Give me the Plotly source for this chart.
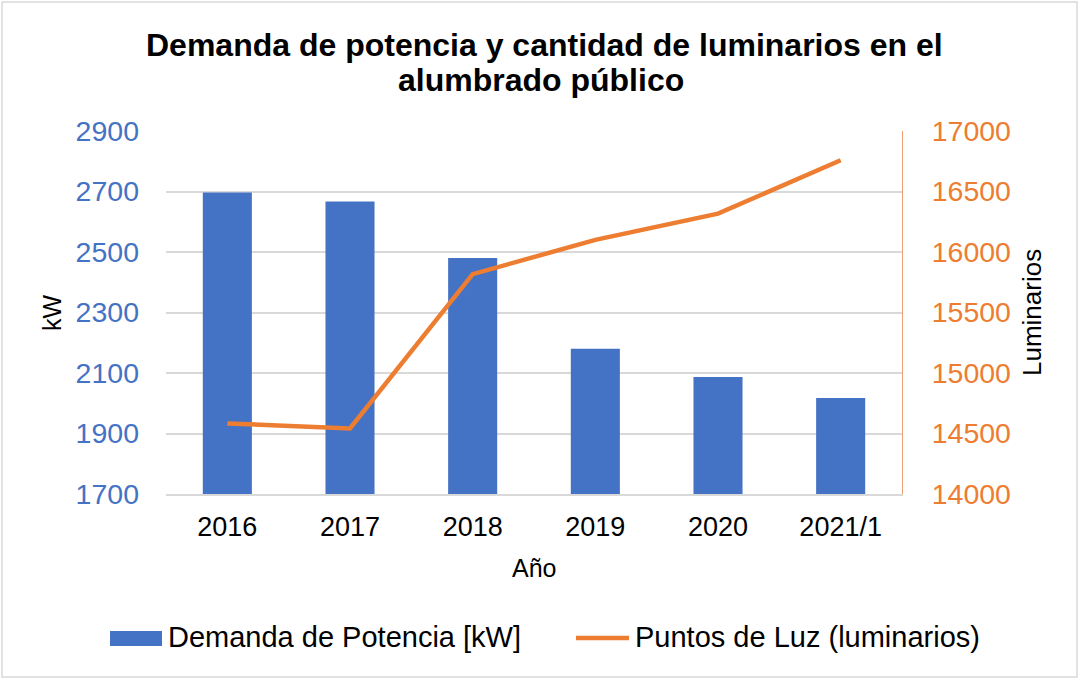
import plotly.graph_objects as go

years = ["2016", "2017", "2018", "2019", "2020", "2021/1"]
demanda_kw = [2697, 2667, 2480, 2180, 2087, 2017]
luminarios = [14583, 14542, 15817, 16100, 16317, 16758]

left_ticks = [1700, 1900, 2100, 2300, 2500, 2700, 2900]
right_ticks = [14000, 14500, 15000, 15500, 16000, 16500, 17000]

blue = "#4472C4"
orange = "#ED7D31"
font = "Liberation Sans, Arial, sans-serif"

W, H = 1080, 679
L, R, T, B = 166, 178, 131, 185
pw, ph = W - L - R, H - T - B


def px(x):
    return (x - L) / pw


def py(y):
    return (H - B - y) / ph


fig = go.Figure()
fig.add_trace(go.Bar(x=years, y=demanda_kw, name="Demanda de Potencia [kW]",
                     marker=dict(color=blue, line=dict(width=0)), width=0.4, yaxis="y",
                     showlegend=False))
fig.add_trace(go.Scatter(x=years, y=luminarios, name="Puntos de Luz (luminarios)",
                         mode="lines", line=dict(color=orange, width=4.5), yaxis="y2",
                         showlegend=False))

fig.update_layout(
    width=W, height=H,
    margin=dict(l=L, r=R, t=T, b=B),
    paper_bgcolor="white", plot_bgcolor="white",
    font=dict(family=font, color="#000000"),
    xaxis=dict(tickfont=dict(size=27), showline=True, linecolor="#D9D9D9", linewidth=1.5,
               showgrid=False, ticks="", ticklabelstandoff=8),
    yaxis=dict(range=[1700, 2900], tickvals=left_ticks, tickfont=dict(size=28.5, color=blue),
               showgrid=True, gridcolor="#D9D9D9", gridwidth=1.5, zeroline=False,
               showline=False, ticks="", ticklabelstandoff=26),
    yaxis2=dict(range=[14000, 17000], tickvals=right_ticks,
                ticktext=[str(v) for v in right_ticks],
                tickfont=dict(size=28.5, color=orange),
                overlaying="y", side="right", showgrid=False, zeroline=False,
                showline=True, linecolor="#F0A070", linewidth=1, ticks="",
                ticklabelstandoff=23),
    showlegend=False,
)

ann = []
# Title lines
ann.append(dict(text="<b>Demanda de potencia y cantidad de luminarios en el</b>",
                x=px(544), y=py(45), xref="paper", yref="paper", showarrow=False,
                xanchor="center", yanchor="middle", font=dict(size=32, color="#000")))
ann.append(dict(text="<b>alumbrado público</b>",
                x=px(541), y=py(80), xref="paper", yref="paper", showarrow=False,
                xanchor="center", yanchor="middle", font=dict(size=32, color="#000")))
# Axis titles
ann.append(dict(text="Año", x=px(534), y=py(568), xref="paper", yref="paper",
                showarrow=False, xanchor="center", yanchor="middle", font=dict(size=25)))
ann.append(dict(text="kW", x=px(52), y=py(313), xref="paper", yref="paper",
                showarrow=False, xanchor="center", yanchor="middle", textangle=-90,
                font=dict(size=25)))
ann.append(dict(text="Luminarios", x=px(1032), y=py(313), xref="paper", yref="paper",
                showarrow=False, xanchor="center", yanchor="middle", textangle=-90,
                font=dict(size=26)))
# Legend texts
ann.append(dict(text="Demanda de Potencia [kW]", x=px(166), y=py(637), xref="paper",
                yref="paper", showarrow=False, xanchor="left", yanchor="middle",
                font=dict(size=29)))
ann.append(dict(text="Puntos de Luz (luminarios)", x=px(633), y=py(637), xref="paper",
                yref="paper", showarrow=False, xanchor="left", yanchor="middle",
                font=dict(size=29)))
fig.update_layout(annotations=ann)

# Legend symbols
fig.add_shape(type="rect", xref="paper", yref="paper",
              x0=px(110), x1=px(162), y0=py(646), y1=py(631),
              fillcolor=blue, line=dict(width=0))
fig.add_shape(type="line", xref="paper", yref="paper",
              x0=px(576), x1=px(629), y0=py(638), y1=py(638),
              line=dict(color=orange, width=4.5))
# Chart border
fig.add_shape(type="rect", xref="paper", yref="paper",
              x0=px(2), x1=px(1077), y0=py(677), y1=py(2),
              line=dict(color="#D9D9D9", width=1.5), layer="below")

fig.write_html("out.html")
